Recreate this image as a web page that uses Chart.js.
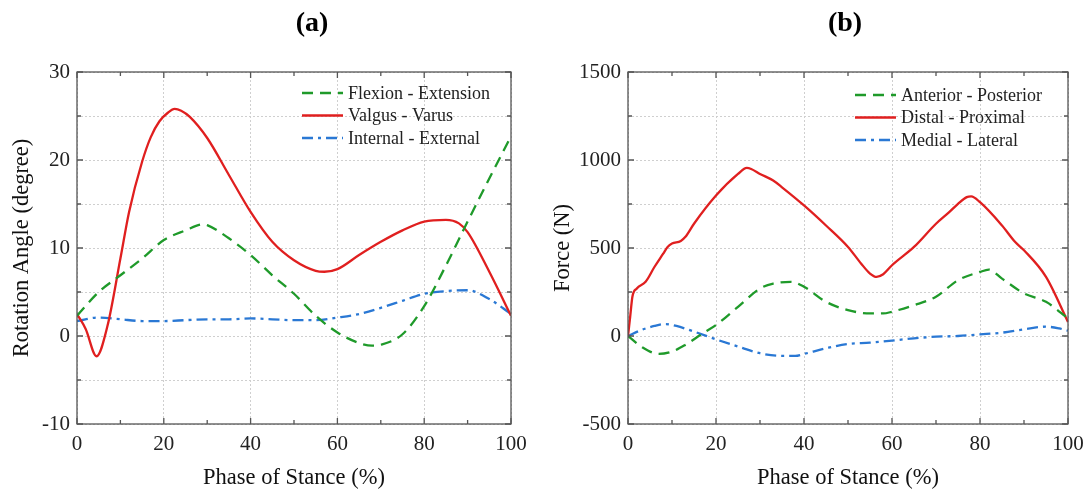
<!DOCTYPE html>
<html><head><meta charset="utf-8">
<script src="https://cdn.jsdelivr.net/npm/chart.js@4.4.1/dist/chart.umd.min.js"></script>
<style>
html,body{margin:0;padding:0;background:#fff;overflow:hidden;width:1092px;height:496px;position:relative}
#wa{position:absolute;left:0;top:0;width:624px;height:496px}
#wb{position:absolute;left:546px;top:0;width:598px;height:496px}
</style></head><body>
<div id="wa"><canvas id="ca"></canvas></div>
<div id="wb"><canvas id="cb"></canvas></div>
<script>
// ---------- Panel (a): rotation angles (degree) ----------
const phaseFE = [0, 5, 10, 15, 20, 25, 29, 30, 35, 40, 45, 50, 55, 60, 65, 68, 70, 75, 80, 85, 90, 95, 100];
const flexionExtension = [2.3, 5.0, 6.9, 8.8, 10.9, 12.0, 12.7, 12.6, 11.1, 9.2, 6.9, 4.8, 2.3, 0.4, -0.8, -1.1, -1.0, 0.2, 3.4, 8.0, 13.0, 17.9, 22.7];

const phaseVV = [0, 2, 4.5, 7, 10, 12, 15, 17, 19, 21, 22.5, 24, 26, 30, 35, 40, 45, 50, 55, 57, 60, 65, 70, 75, 80, 85, 88, 90, 95, 100];
const valgusVarus = [2.5, 0.8, -2.3, 1.1, 8.8, 14.1, 19.8, 22.6, 24.4, 25.4, 25.8, 25.6, 24.9, 22.5, 18.3, 14.1, 10.7, 8.6, 7.4, 7.3, 7.6, 9.2, 10.7, 12.0, 13.0, 13.2, 12.8, 11.8, 7.3, 2.3];

const phaseIE = [0, 5, 10, 15, 20, 25, 30, 35, 40, 45, 50, 55, 60, 65, 70, 75, 80, 85, 90, 95, 100];
const internalExternal = [1.7, 2.1, 1.9, 1.7, 1.7, 1.8, 1.9, 1.9, 2.0, 1.9, 1.8, 1.8, 2.1, 2.5, 3.2, 4.0, 4.8, 5.1, 5.2, 4.2, 2.5];

// ---------- Panel (b): forces (N) ----------
const phaseAP = [0, 3, 7, 10, 13, 17, 20, 25, 30, 33, 37, 40, 45, 50, 55, 58, 60, 65, 70, 75, 80, 82, 85, 90, 95, 100];
const anteriorPosterior = [0, -60, -102, -89, -51, 15, 62, 166, 270, 298, 308, 280, 194, 147, 128, 128, 138, 175, 223, 317, 364, 377, 326, 242, 194, 100];

const phaseDP = [0, 0.5, 1, 2, 4, 6, 8, 9, 10, 12, 13, 15, 20, 25, 27, 28, 30, 33, 35, 40, 45, 50, 53, 55, 56.5, 58, 60, 65, 70, 73, 75, 77, 78, 80, 85, 88, 90, 95, 100];
const distalProximal = [0, 110, 223, 270, 308, 392, 468, 506, 525, 540, 562, 638, 798, 921, 955, 949, 921, 883, 845, 742, 628, 506, 411, 355, 336, 351, 402, 506, 638, 704, 751, 789, 793, 760, 628, 534, 487, 336, 80];

const phaseML = [0, 3, 6, 8.5, 11, 15, 20, 25, 30, 35, 38, 40, 45, 50, 55, 60, 65, 70, 75, 80, 85, 90, 95, 98, 100];
const medialLateral = [0, 34, 57, 68, 57, 25, -19, -60, -98, -113, -113, -102, -70, -45, -38, -26, -13, -4, 0, 9, 19, 38, 53, 43, 30];

const xTicks = [0, 20, 40, 60, 80, 100];

const GREEN = '#1f9a2a', RED = '#e01f1f', BLUE = '#2a78d4';
const FONT = "'Liberation Serif', 'Times New Roman', serif";

function pts(xs, ys) { return xs.map((x, i) => ({ x: x, y: ys[i] })); }

function ds(label, xs, ys, color, dash) {
  return { label, data: pts(xs, ys), borderColor: color, backgroundColor: color,
    borderWidth: 2.3, borderDash: dash, pointRadius: 0, cubicInterpolationMode: 'monotone', fill: false };
}

// plugin: box, inward ticks and in-plot legend
const framePlugin = {
  id: 'frame',
  afterDatasetsDraw(chart, args, opts) {
    const { ctx, chartArea: a } = chart;
    const xs = chart.scales.x, ys = chart.scales.y;
    ctx.save();
    ctx.strokeStyle = '#555';
    ctx.lineWidth = 1.3;
    ctx.setLineDash([]);
    ctx.strokeRect(a.left, a.top, a.right - a.left, a.bottom - a.top);
    for (let v = xs.min; v <= xs.max; v += 10) {
      const px = xs.getPixelForValue(v);
      const len = (v % 20 === 0) ? 6 : 4;
      ctx.beginPath();
      ctx.moveTo(px, a.bottom); ctx.lineTo(px, a.bottom - len);
      ctx.moveTo(px, a.top); ctx.lineTo(px, a.top + len);
      ctx.stroke();
    }
    for (let v = ys.min; v <= ys.max; v += opts.yMinor) {
      const py = ys.getPixelForValue(v);
      const len = (v % opts.yMajor === 0) ? 6 : 4;
      ctx.beginPath();
      ctx.moveTo(a.left, py); ctx.lineTo(a.left + len, py);
      ctx.moveTo(a.right, py); ctx.lineTo(a.right - len, py);
      ctx.stroke();
    }
    // legend
    const lx = a.left + opts.legendX, ly = a.top + opts.legendY;
    ctx.font = '18px ' + FONT;
    ctx.textBaseline = 'middle';
    ctx.fillStyle = '#222';
    chart.data.datasets.forEach((d, i) => {
      const y = ly + i * 22.5;
      ctx.strokeStyle = d.borderColor;
      ctx.lineWidth = 2.3;
      ctx.setLineDash(d.borderDash || []);
      ctx.beginPath();
      ctx.moveTo(lx, y); ctx.lineTo(lx + 41, y);
      ctx.stroke();
      ctx.setLineDash([]);
      ctx.fillText(d.label, lx + 46, y + 1);
    });
    ctx.restore();
  }
};

function makeOptions(title, yTitle, ymin, ymax, yStep, yMajor, yWidth, yTitlePad, rightW, legendX, legendY) {
  return {
    responsive: true, maintainAspectRatio: false, animation: false,
    layout: { padding: 0 },
    plugins: {
      legend: { display: false },
      tooltip: { enabled: false },
      title: { display: true, text: title, color: '#000',
        font: { family: FONT, size: 28, weight: 'bold' }, padding: { top: 7, bottom: 31.4 } },
      frame: { yMinor: yStep, yMajor: yMajor, legendX: legendX, legendY: legendY }
    },
    scales: {
      x: { type: 'linear', min: 0, max: 100,
        afterBuildTicks(s) { s.ticks = xTicks.map(v => ({ value: v })); },
        afterFit(s) { s.height = 72; },
        ticks: { color: '#222', font: { family: FONT, size: 21 }, padding: 8, maxRotation: 0 },
        grid: { color: '#cfcfcf', lineWidth: 1, drawTicks: false },
        border: { display: false, dash: [2, 2] },
        title: { display: true, text: 'Phase of Stance (%)', color: '#111',
          font: { family: FONT, size: 22.5 }, padding: { top: 0, bottom: 4.5 } }
      },
      y: { type: 'linear', position: 'left', min: ymin, max: ymax,
        ticks: { stepSize: yStep, color: '#222', font: { family: FONT, size: 21 }, padding: 7,
          callback: v => (v % yMajor === 0 ? String(v) : '') },
        afterFit(s) { s.width = yWidth; },
        grid: { color: '#cfcfcf', lineWidth: 1, drawTicks: false },
        border: { display: false, dash: [2, 2] },
        title: { display: true, text: yTitle, color: '#111',
          font: { family: FONT, size: 22.5 }, padding: { top: yTitlePad, bottom: 0 } }
      },
      r: { type: 'linear', position: 'right', min: 0, max: 1,
        ticks: { display: false }, grid: { display: false }, border: { display: false },
        afterFit(s) { s.width = rightW; }
      }
    }
  };
}

new Chart(document.getElementById('ca'), {
  type: 'line',
  data: { datasets: [
    ds('Flexion - Extension', phaseFE, flexionExtension, GREEN, [11, 7]),
    ds('Valgus - Varus', phaseVV, valgusVarus, RED, []),
    ds('Internal - External', phaseIE, internalExternal, BLUE, [11, 5, 3, 5])
  ] },
  options: makeOptions('(a)', 'Rotation Angle (degree)', -10, 30, 5, 10, 77, 8.5, 113, 225, 21),
  plugins: [framePlugin]
});

new Chart(document.getElementById('cb'), {
  type: 'line',
  data: { datasets: [
    ds('Anterior - Posterior', phaseAP, anteriorPosterior, GREEN, [11, 7]),
    ds('Distal - Proximal', phaseDP, distalProximal, RED, []),
    ds('Medial - Lateral', phaseML, medialLateral, BLUE, [11, 5, 3, 5])
  ] },
  options: makeOptions('(b)', 'Force (N)', -500, 1500, 250, 500, 82, 3.5, 76, 227, 23),
  plugins: [framePlugin]
});
</script>
</body></html>
